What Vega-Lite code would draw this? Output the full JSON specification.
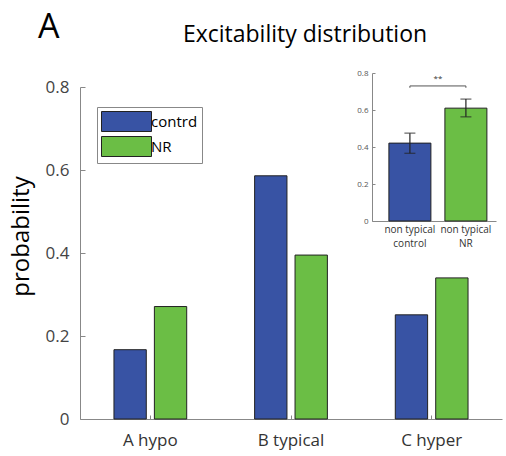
{
  "$schema": "https://vega.github.io/schema/vega-lite/v6.json",
  "autosize": {"type": "pad"},
  "padding": {"left": 9, "top": 11, "right": 6, "bottom": 4},
  "background": "white",
  "config": {"font": "Open Sans", "view": {"stroke": null}},
  "title": {"text": "A", "anchor": "start", "frame": "group", "fontSize": 34, "fontWeight": "normal", "color": "black", "dx": -42, "dy": 25},
  "datasets": {
    "main": [
      {"category": "A hypo", "group": "contrd", "probability": 0.167},
      {"category": "A hypo", "group": "NR", "probability": 0.271},
      {"category": "B typical", "group": "contrd", "probability": 0.586},
      {"category": "B typical", "group": "NR", "probability": 0.395},
      {"category": "C hyper", "group": "contrd", "probability": 0.251},
      {"category": "C hyper", "group": "NR", "probability": 0.340}
    ],
    "inset": [
      {"label": "non typical\ncontrol", "group": "contrd", "value": 0.421, "lo": 0.366, "hi": 0.475},
      {"label": "non typical\nNR", "group": "NR", "value": 0.610, "lo": 0.563, "hi": 0.659}
    ],
    "bracket": [
      {"from": "non typical\ncontrol", "to": "non typical\nNR", "y": 0.73, "mark": "**", "ytext": 0.768}
    ],
    "bracketEnds": [
      {"label": "non typical\ncontrol", "y": 0.72, "y2": 0.73},
      {"label": "non typical\nNR", "y": 0.72, "y2": 0.73}
    ]
  },
  "vconcat": [
    {
      "width": 422,
      "height": 332,
      "title": {"text": "Excitability distribution", "anchor": "middle", "frame": "group", "fontSize": 23, "fontWeight": "normal", "color": "black", "dx": 14, "offset": 22},
      "layer": [
        {
          "data": {"name": "main"},
          "mark": {"type": "bar", "stroke": "#222222", "strokeWidth": 1},
          "encoding": {
            "x": {"field": "category", "type": "nominal", "sort": null,
              "scale": {"paddingInner": 0, "paddingOuter": 0},
              "axis": {"orient": "bottom", "title": null, "labelAngle": 0, "labelFontSize": 17, "labelColor": "#333333", "domainColor": "#888888", "tickColor": "#888888", "tickSize": -4, "labelPadding": 17}},
            "xOffset": {"field": "group", "type": "nominal", "sort": null,
              "scale": {"domain": ["contrd", "NR"], "paddingInner": 0.2, "paddingOuter": 0.84}},
            "y": {"field": "probability", "type": "quantitative",
              "scale": {"domain": [0, 0.8], "nice": false},
              "axis": {"orient": "left", "values": [0, 0.2, 0.4, 0.6, 0.8], "format": ".1~f", "grid": false, "labelFontSize": 17, "labelColor": "#444444", "domainColor": "#888888", "tickColor": "#888888", "tickSize": -5, "labelPadding": 16, "title": "probability", "titleFontSize": 24, "titleFontWeight": "normal", "titleColor": "black", "titlePadding": 12, "titleY": 149}},
            "color": {"field": "group", "type": "nominal",
              "scale": {"domain": ["contrd", "NR"], "range": ["#3853a4", "#6bbe45"]},
              "legend": {"orient": "none", "legendX": 17, "legendY": 20, "title": null, "symbolType": "M-1,-1H4V1H-1Z", "symbolSize": 400, "symbolStrokeColor": "#222222", "symbolStrokeWidth": 1, "symbolOpacity": 1, "labelFontSize": 15, "labelColor": "black", "labelOffset": 29, "strokeColor": "#888888", "fillColor": "white", "padding": 4, "rowPadding": 0}}
          }
        },
        {
          "layer": [
            {
              "data": {"name": "inset"},
              "mark": {"type": "bar", "stroke": "#222222", "strokeWidth": 1},
              "encoding": {
                "x": {"field": "label", "type": "nominal", "sort": null,
                  "scale": {"range": [292, 416], "paddingInner": 0.25, "paddingOuter": 0.232, "align": 0.65},
                  "axis": {"orient": "bottom", "offset": -198, "title": null, "labelAngle": 0, "labelExpr": "split(datum.label, '\\n')", "labelFontSize": 10, "labelLineHeight": 14, "labelColor": "#333333", "domainColor": "#888888", "ticks": false, "labelPadding": 3}},
                "y": {"field": "value", "type": "quantitative",
                  "scale": {"domain": [0, 0.8], "range": [134, -14], "nice": false},
                  "axis": {"orient": "left", "offset": -292, "values": [0, 0.2, 0.4, 0.6, 0.8], "format": ".1~f", "grid": false, "labelFontSize": 8, "labelColor": "#555555", "domainColor": "#888888", "tickColor": "#888888", "tickSize": -3, "labelPadding": 7, "title": null}},
                "color": {"field": "group", "type": "nominal", "legend": null}
              }
            },
            {
              "data": {"name": "inset"},
              "mark": {"type": "rule", "color": "#222222", "strokeWidth": 1.2},
              "encoding": {
                "x": {"field": "label", "type": "nominal", "sort": null},
                "y": {"field": "lo", "type": "quantitative"},
                "y2": {"field": "hi"}
              }
            },
            {
              "data": {"name": "inset"},
              "mark": {"type": "tick", "color": "#222222", "size": 11, "thickness": 1.2},
              "encoding": {
                "x": {"field": "label", "type": "nominal", "sort": null},
                "y": {"field": "lo", "type": "quantitative"}
              }
            },
            {
              "data": {"name": "inset"},
              "mark": {"type": "tick", "color": "#222222", "size": 11, "thickness": 1.2},
              "encoding": {
                "x": {"field": "label", "type": "nominal", "sort": null},
                "y": {"field": "hi", "type": "quantitative"}
              }
            },
            {
              "data": {"name": "bracket"},
              "mark": {"type": "rule", "color": "#555555", "strokeWidth": 1},
              "encoding": {
                "x": {"field": "from", "type": "nominal", "sort": null},
                "x2": {"field": "to"},
                "y": {"field": "y", "type": "quantitative"}
              }
            },
            {
              "data": {"name": "bracketEnds"},
              "mark": {"type": "rule", "color": "#555555", "strokeWidth": 1},
              "encoding": {
                "x": {"field": "label", "type": "nominal", "sort": null},
                "y": {"field": "y", "type": "quantitative"},
                "y2": {"field": "y2"}
              }
            },
            {
              "data": {"name": "bracket"},
              "mark": {"type": "text", "fontSize": 8, "color": "#333333", "dx": 28, "baseline": "middle"},
              "encoding": {
                "x": {"field": "from", "type": "nominal", "sort": null},
                "y": {"field": "ytext", "type": "quantitative"},
                "text": {"field": "mark"}
              }
            }
          ]
        }
      ],
      "resolve": {"scale": {"x": "independent", "y": "independent"}, "axis": {"x": "independent", "y": "independent"}}
    }
  ]
}
